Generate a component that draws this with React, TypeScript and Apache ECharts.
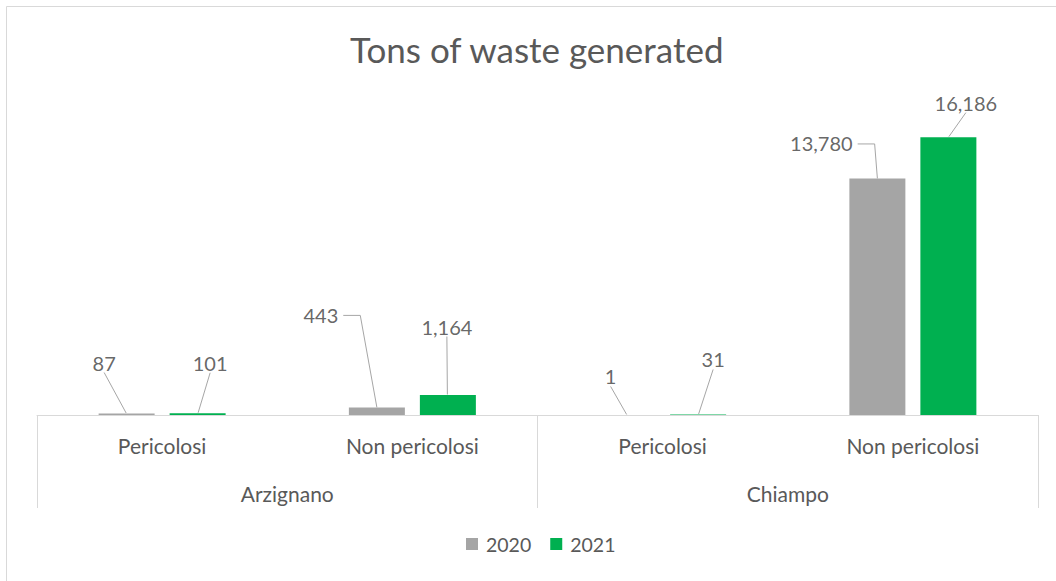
import React, { useEffect, useRef } from "react";
import * as echarts from "echarts";

const subCategories = ["Pericolosi", "Non pericolosi", "Pericolosi", "Non pericolosi"];
const groups = ["Arzignano", "Chiampo"];
const seriesNames = ["2020", "2021"];
const values2020 = [87, 443, 1, 13780];
const values2021 = [101, 1164, 31, 16186];
const yMax = 18000;

// styling: where each moved data label sits relative to its default 'top' spot, and leader-line elbow length
const labelOffsets2020 = [[-22.5, -35.5], [-56, -77], [-16.5, -23], [-56, -19.5]];
const labelOffsets2021 = [[12.5, -35], [-1, -53], [15, -39.5], [17.5, -19]];
const elbow2020 = [0, 17, 0, 17];
const elbow2021 = [0, 0, 0, 0];

const FONT = "Lato, 'Open Sans', sans-serif";
const LABEL_SIZE = 20;
const LABEL_DIST = 5;
const BAR_W = 56;
const BAR_GAP = 15;
const LINE_COLOR = "#a6a6a6";

export default function App() {
  const ref = useRef<HTMLDivElement>(null);
  useEffect(() => {
    if (!ref.current) return;
    const chart = echarts.init(ref.current, undefined, { renderer: "svg" });
    const fmt = (v: number) => Number(v).toLocaleString("en-US");
    const half = (BAR_W + BAR_GAP) / 2;
    const mkBar = (name: string, data: number[], color: string) => ({
      name,
      type: "bar",
      xAxisIndex: 0,
      data,
      barWidth: BAR_W,
      barGap: (BAR_GAP / BAR_W) * 100 + "%",
      itemStyle: { color },
      z: 2,
    });
    const mkLabels = (name: string, data: number[], side: number, offs: number[][], elbow: number[]) => ({
      name,
      type: "scatter",
      xAxisIndex: 0,
      data: data.map((v, i) => ({ value: v, labelLine: { show: elbow[i] === 0 } })),
      symbol: "rect",
      symbolSize: [1, 1],
      symbolOffset: [side * half, 0],
      itemStyle: { color: "rgba(0,0,0,0)" },
      silent: true,
      z: 5,
      label: {
        show: true,
        position: "top",
        distance: LABEL_DIST,
        formatter: (p: any) => fmt(p.value),
        fontFamily: FONT,
        fontSize: LABEL_SIZE,
        color: "#404040",
      },
      labelLine: { show: true, lineStyle: { color: LINE_COLOR, width: 1 } },
      labelLayout: (params: any) => {
        const o = offs[params.dataIndex];
        return { dx: o[0], dy: o[1] };
      },
    });
    const borderGraphic = {
      id: "border",
      type: "rect",
      shape: { x: 6.5, y: 6.5, width: 1200, height: 700 },
      style: { fill: "none", stroke: "#d9d9d9", lineWidth: 1 },
      silent: true,
      z: -10,
    };
    chart.setOption({
      animation: false,
      backgroundColor: "#ffffff",
      textStyle: { fontFamily: FONT },
      graphic: [borderGraphic],
      title: {
        text: "Tons of waste generated",
        left: 345,
        top: 26,
        textStyle: { fontFamily: FONT, fontSize: 35, fontWeight: "normal", color: "#595959" },
      },
      legend: {
        data: seriesNames,
        bottom: 22,
        left: 461,
        icon: "rect",
        itemWidth: 12,
        itemHeight: 12,
        itemGap: 19,
        textStyle: { fontFamily: FONT, fontSize: 19.5, color: "#595959", padding: [0, 0, 0, 3] },
      },
      grid: { left: 37, right: 18, top: 106, bottom: 166 },
      xAxis: [
        {
          type: "category",
          data: subCategories,
          position: "bottom",
          axisLine: { show: true, lineStyle: { color: "#d9d9d9" } },
          axisTick: { show: false },
          axisLabel: { margin: 19.5, fontFamily: FONT, fontSize: 21, color: "#595959", interval: 0 },
        },
        {
          type: "category",
          data: groups,
          position: "bottom",
          axisLine: { show: false },
          axisTick: { show: true, length: 93, lineStyle: { color: "#d9d9d9" } },
          axisLabel: { margin: 67.5, fontFamily: FONT, fontSize: 21, color: "#595959", interval: 0 },
        },
      ],
      yAxis: {
        type: "value",
        min: 0,
        max: yMax,
        show: false,
        splitLine: { show: false },
      },
      series: [
        mkBar(seriesNames[0], values2020, "#a5a5a5"),
        mkBar(seriesNames[1], values2021, "#00b050"),
        mkLabels("labels2020", values2020, -1, labelOffsets2020, elbow2020),
        mkLabels("labels2021", values2021, 1, labelOffsets2021, elbow2021),
      ],
    });

    // elbow leader lines (label side -> short horizontal -> bar top centre), computed through the chart's scales
    const canvas = document.createElement("canvas");
    const ctx = canvas.getContext("2d")!;
    ctx.font = `${LABEL_SIZE}px ${FONT}`;
    const elbowLines: any[] = [];
    const addElbows = (data: number[], side: number, offs: number[][], elbow: number[], key: string) => {
      data.forEach((v, i) => {
        if (elbow[i] <= 0) return;
        const p = chart.convertToPixel({ xAxisIndex: 0, yAxisIndex: 0 }, [i, v]) as number[];
        const ax = p[0] + side * half;
        const ay = p[1];
        const w = ctx.measureText(fmt(v)).width;
        const cx = ax + offs[i][0];
        const cy = ay - LABEL_DIST - LABEL_SIZE / 2 + offs[i][1];
        const sx = cx + w / 2 + 5;
        elbowLines.push({
          id: `elbow-${key}-${i}`,
          type: "polyline",
          shape: { points: [[sx, cy], [sx + elbow[i], cy], [ax, ay]] },
          style: { fill: "none", stroke: LINE_COLOR, lineWidth: 1 },
          silent: true,
          z: 6,
        });
      });
    };
    addElbows(values2020, -1, labelOffsets2020, elbow2020, "a");
    addElbows(values2021, 1, labelOffsets2021, elbow2021, "b");
    chart.setOption({ graphic: [borderGraphic, ...elbowLines] });

    return () => chart.dispose();
  }, []);
  return (
    <div
      ref={ref}
      style={{ position: "absolute", left: 0, top: 0, width: 1056, height: 581 }}
    />
  );
}
